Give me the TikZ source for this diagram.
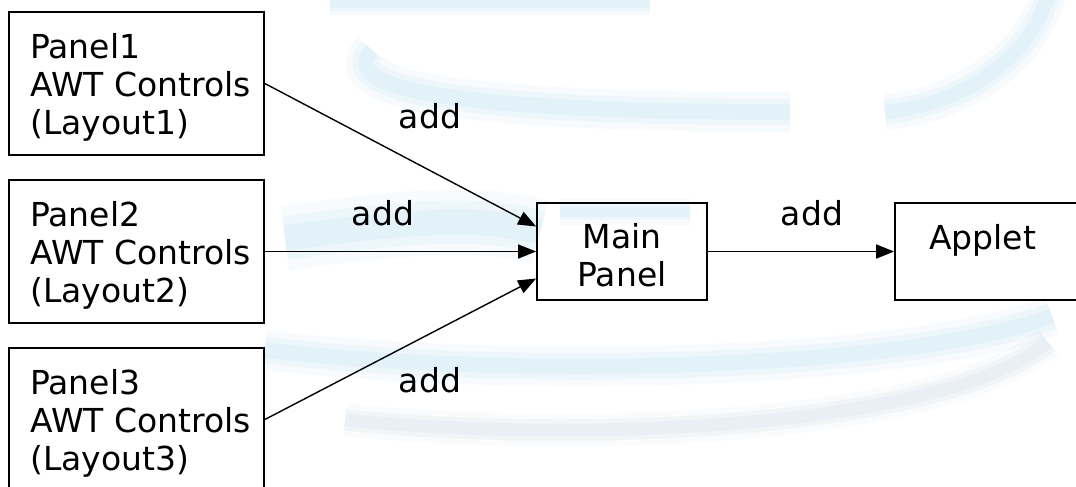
\documentclass[tikz,border=0pt]{standalone}
\usepackage{fontspec}
\setmainfont{DejaVu Sans}
\usetikzlibrary{arrows.meta}

\definecolor{swoosh}{RGB}{188,221,242}
\definecolor{swooshgrey}{RGB}{204,219,230}

% a soft, hazy stroke: the same path drawn three times, wide and faint to narrow
\newcommand\hazypath[3]{%
  \draw[#1, line cap=butt, opacity=0.11, line width=#2*1.8pt] #3;
  \draw[#1, line cap=butt, opacity=0.16, line width=#2*1.2pt] #3;
  \draw[#1, line cap=butt, opacity=0.20, line width=#2*0.7pt] #3;
}
% small text helpers: left indent for panel lines, extra room above a first line
\newcommand\pad{\hspace*{8pt}}
\newcommand\lift{\rule{0pt}{33pt}}

\tikzset{
  box/.style={draw=black, line width=1.7pt, inner sep=0pt,
    font=\fontsize{33}{38}\selectfont},
  panelbox/.style={box, minimum width=255pt, minimum height=143pt, align=left},
  mainbox/.style={box, minimum width=170pt, minimum height=97pt, align=center},
  appletbox/.style={box, minimum width=195pt, minimum height=97pt, align=center},
  conn/.style={line width=1.4pt, -{Triangle[length=18pt,width=14pt]}},
  lbl/.style={inner sep=0pt, font=\fontsize{33}{38}\selectfont},
}

\begin{document}
\begin{tikzpicture}[x=1pt, y=-1pt]
  \useasboundingbox (0,0) rectangle (1076,487);
  \clip (0,0) rectangle (1076,487);
  \fill[white] (0,0) rectangle (1076,487);

  % faint globe-like swooshes in the background
  \hazypath{swoosh}{22}{(372,50) .. controls (330,95) and (500,112) .. (790,112)}
  \hazypath{swoosh}{12}{(330,4) -- (650,4)}
  \hazypath{swoosh}{20}{(1048,-5) .. controls (1030,60) and (960,105) .. (885,112)}
  \hazypath{swoosh}{36}{(285,238) .. controls (400,222) and (480,215) .. (540,232)}
  \hazypath{swoosh}{14}{(560,212) -- (690,212)}
  \hazypath{swoosh}{22}{(265,350) .. controls (500,378) and (900,372) .. (1052,316)}
  \hazypath{swooshgrey}{18}{(345,420) .. controls (600,445) and (950,425) .. (1048,342)}

  % boxes
  \node[panelbox] (p1) at (136.5,83.5) {\lift\pad Panel1\\\pad AWT Controls\\\pad (Layout1)};
  \node[panelbox] (p2) at (136.5,251.5) {\lift\pad Panel2\\\pad AWT Controls\\\pad (Layout2)};
  \node[panelbox] (p3) at (136.5,419.5) {\lift\pad Panel3\\\pad AWT Controls\\\pad (Layout3)};
  \node[mainbox] (main) at (622,251.5) {\lift Main\\Panel};
  \node[appletbox] (applet) at (992.5,251.5) {\lift Applet\hspace*{20pt}\\\mbox{}};

  % connectors
  \draw[conn] (p1.east) -- ([yshift=25pt]main.west);
  \draw[conn] (p2.east) -- (main.west);
  \draw[conn] (p3.east) -- ([yshift=-27pt]main.west);
  \draw[conn] (main.east) -- (applet.west);

  % labels
  \node[lbl] (l1) at (430,116) {add};
  \node[lbl] (l2) at (383,213) {add};
  \node[lbl] (l3) at (430,380) {add};
  \node[lbl] (l4) at (812,213) {add};
\end{tikzpicture}
\end{document}
